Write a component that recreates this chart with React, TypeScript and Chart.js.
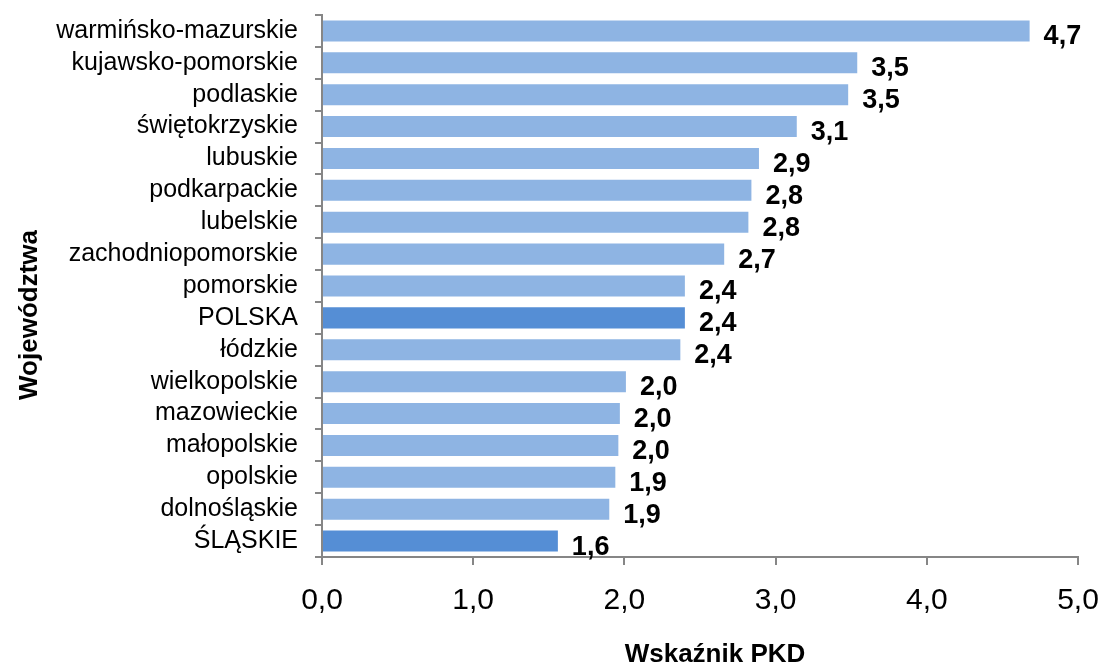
import React, { useEffect, useRef } from "react";
import { Chart, registerables } from "chart.js";

Chart.register(...registerables);

const categories = [
  "warmińsko-mazurskie",
  "kujawsko-pomorskie",
  "podlaskie",
  "świętokrzyskie",
  "lubuskie",
  "podkarpackie",
  "lubelskie",
  "zachodniopomorskie",
  "pomorskie",
  "POLSKA",
  "łódzkie",
  "wielkopolskie",
  "mazowieckie",
  "małopolskie",
  "opolskie",
  "dolnośląskie",
  "ŚLĄSKIE",
];

const values = [4.68, 3.54, 3.48, 3.14, 2.89, 2.84, 2.82, 2.66, 2.4, 2.4, 2.37, 2.01, 1.97, 1.96, 1.94, 1.9, 1.56];

const valueLabels = ["4,7", "3,5", "3,5", "3,1", "2,9", "2,8", "2,8", "2,7", "2,4", "2,4", "2,4", "2,0", "2,0", "2,0", "1,9", "1,9", "1,6"];

const highlighted = ["POLSKA", "ŚLĄSKIE"];

const xTicks = [0, 1, 2, 3, 4, 5];

const xTitle = "Wskaźnik PKD";
const yTitle = "Województwa";

const FONT = "'Liberation Sans', Arial, sans-serif";
const AXIS_COLOR = "#868686";
const BAR_COLOR = "#8eb4e3";
const HIGHLIGHT_COLOR = "#558ed5";

const labelsPlugin = {
  id: "customLabels",
  afterDatasetsDraw(chart: any) {
    const ctx = chart.ctx;
    const meta = chart.getDatasetMeta(0);
    ctx.save();
    ctx.fillStyle = "#000";
    ctx.font = `bold 27px ${FONT}`;
    ctx.textAlign = "left";
    ctx.textBaseline = "middle";
    meta.data.forEach((bar: any, i: number) => {
      ctx.fillText(valueLabels[i], bar.x + 14, bar.y + 6);
    });
    ctx.restore();
  },
  afterDraw(chart: any) {
    const ctx = chart.ctx;
    const area = chart.chartArea;
    ctx.save();
    ctx.fillStyle = "#000";
    ctx.font = `bold 26px ${FONT}`;
    ctx.textAlign = "center";
    ctx.textBaseline = "middle";
    ctx.fillText(xTitle, (area.left + area.right) / 2 + 15, chart.height - 15);
    ctx.translate(30, (area.top + area.bottom) / 2 + 29);
    ctx.rotate(-Math.PI / 2);
    ctx.fillText(yTitle, 0, 0);
    ctx.restore();
  },
};

export default function App() {
  const canvasRef = useRef<HTMLCanvasElement | null>(null);

  useEffect(() => {
    if (!canvasRef.current) return;
    const chart = new Chart(canvasRef.current, {
      type: "bar",
      data: {
        labels: categories,
        datasets: [
          {
            data: values,
            backgroundColor: categories.map((c) => (highlighted.includes(c) ? HIGHLIGHT_COLOR : BAR_COLOR)),
            barPercentage: 0.66,
            categoryPercentage: 1,
          },
        ],
      },
      options: {
        indexAxis: "y",
        animation: false,
        responsive: false,
        maintainAspectRatio: false,
        layout: { padding: { left: 0, top: 15, right: 21, bottom: 0 } },
        plugins: {
          legend: { display: false },
          tooltip: { enabled: false },
        },
        scales: {
          x: {
            min: 0,
            max: 5,
            afterBuildTicks: (scale: any) => {
              scale.ticks = xTicks.map((v) => ({ value: v }));
            },
            afterFit: (scale: any) => {
              scale.height = 113;
              scale.paddingLeft = 0;
              scale.paddingRight = 0;
            },
            ticks: {
              color: "#000",
              font: { family: FONT, size: 30 },
              padding: 18,
              callback: (v: any) => Number(v).toFixed(1).replace(".", ","),
            },
            grid: {
              drawOnChartArea: false,
              drawTicks: true,
              tickLength: 8,
              color: AXIS_COLOR,
              lineWidth: 2,
            },
            border: { color: AXIS_COLOR, width: 2 },
          },
          y: {
            afterFit: (scale: any) => {
              scale.width = 322;
              scale.paddingTop = 0;
              scale.paddingBottom = 0;
            },
            ticks: {
              color: "#000",
              font: { family: FONT, size: 25 },
              padding: 17,
              autoSkip: false,
            },
            grid: {
              offset: true,
              drawOnChartArea: false,
              drawTicks: true,
              tickLength: 7,
              color: AXIS_COLOR,
              lineWidth: 2,
            },
            border: { color: AXIS_COLOR, width: 2 },
          },
        },
      },
      plugins: [labelsPlugin],
    });
    return () => chart.destroy();
  }, []);

  return (
    <div style={{ position: "absolute", left: 0, top: 0, width: 1099, height: 670, background: "#fff" }}>
      <canvas ref={canvasRef} width={1099} height={670} style={{ display: "block" }} />
    </div>
  );
}
